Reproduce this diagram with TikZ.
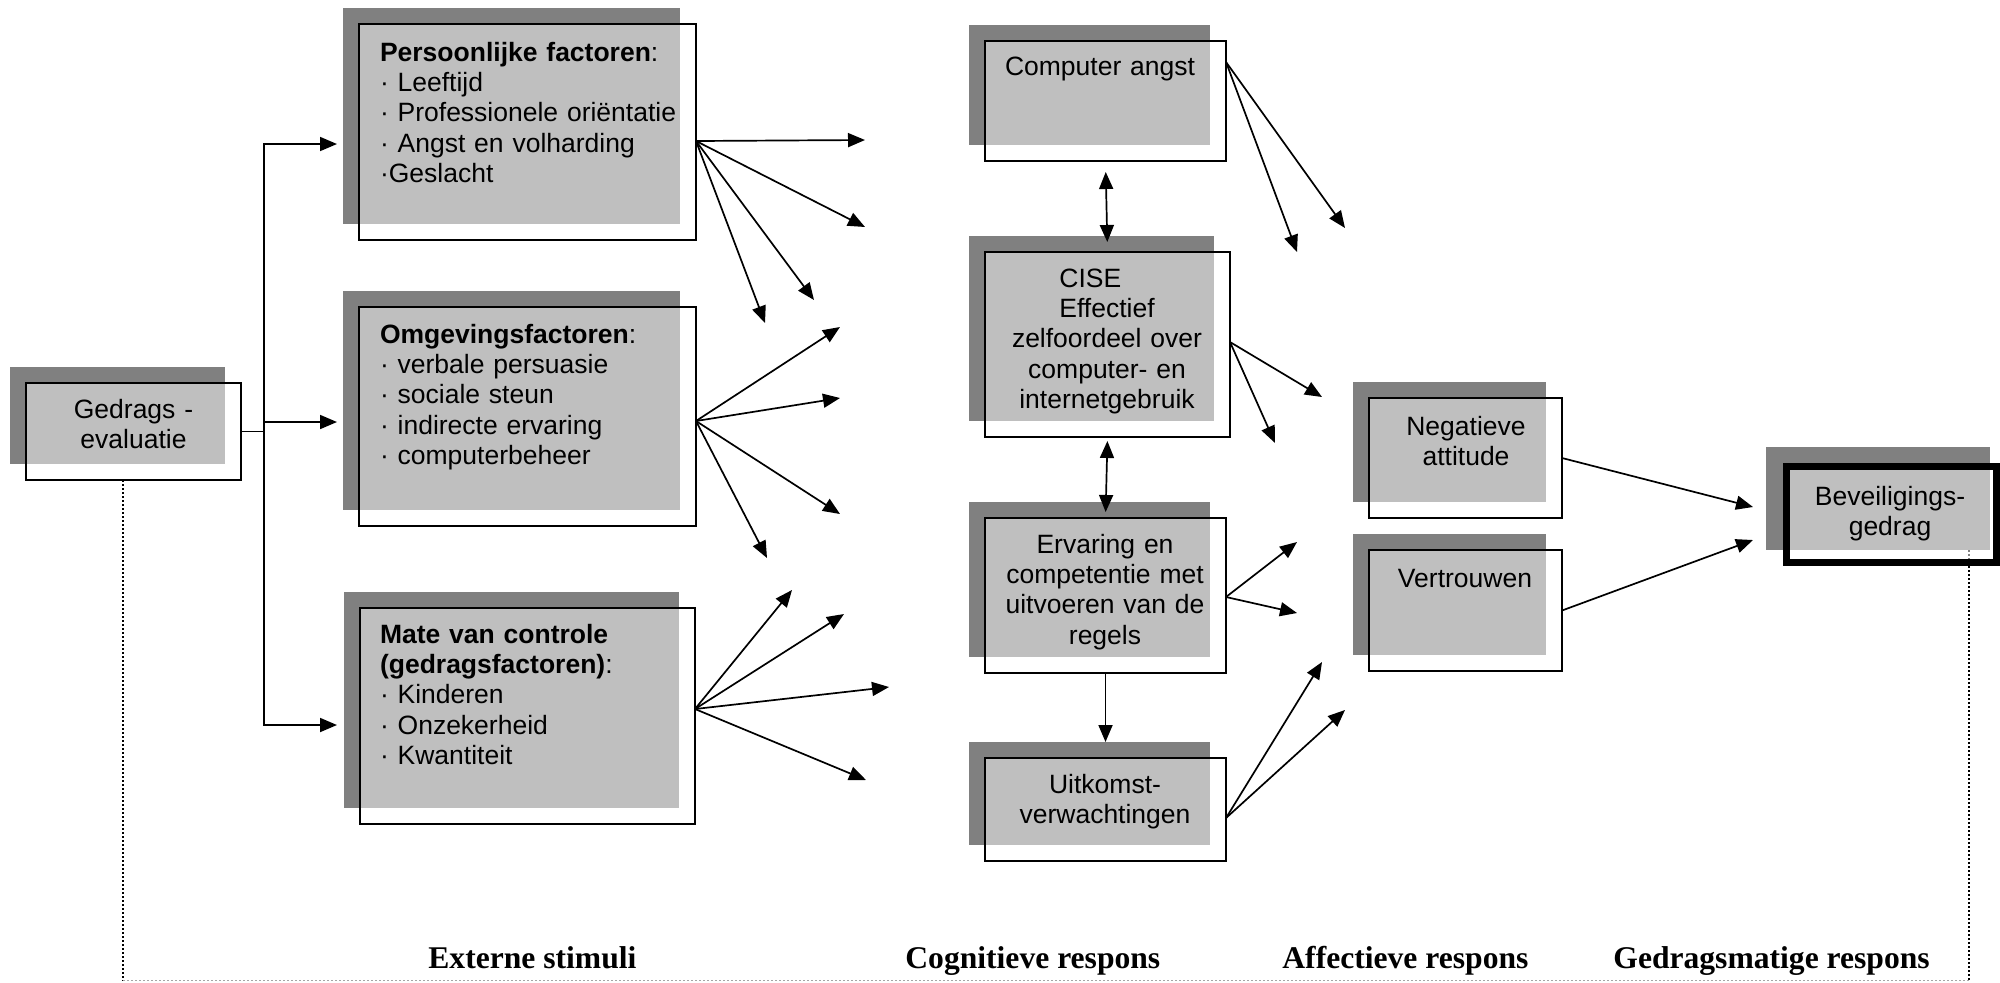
\documentclass[tikz,border=0pt]{standalone}
\usepackage{fontspec}
\setmainfont{Liberation Sans}
\newfontfamily\labelfont{Liberation Serif}
\usetikzlibrary{arrows.meta}
\definecolor{shadowgray}{HTML}{808080}
\begin{document}
\begin{tikzpicture}[x=0.5pt,y=-0.5pt,
  box/.style={rectangle, draw=black, line width=0.8pt, fill=white, fill opacity=0.5,
    draw opacity=1, inner sep=0pt, outer sep=0pt, anchor=north west,
    preaction={draw=none, fill=shadowgray, fill opacity=1,
      transform canvas={shift={(-8pt,8pt)}}}},
  sz/.style 2 args={minimum width=#1*0.5pt, minimum height=#2*0.5pt},
  thickbox/.style={rectangle, draw=black, line width=3.5pt, fill=white, fill opacity=0.5,
    draw opacity=1, inner sep=0pt, outer sep=0pt, anchor=north west},
  txt/.style={inner sep=0pt, outer sep=0pt, text width=#1,
    font=\fontsize{13.25pt}{15.2pt}\selectfont},
  ltxt/.style={txt=150pt, align=left, anchor=base west},
  ctxt/.style={txt=118pt, align=center, anchor=base},
  lab/.style={inner sep=0pt, anchor=base west,
    font=\labelfont\bfseries\fontsize{15.8pt}{18pt}\selectfont},
  conn/.style={line width=0.85pt},
  arr/.style={conn, -{Triangle[length=8.5pt,width=7pt]}},
  dbl/.style={conn, {Triangle[length=8.5pt,width=7pt]}-{Triangle[length=8.5pt,width=7pt]}},
  dotline/.style={line width=0.6pt, dash pattern=on 1pt off 1pt}
]
\useasboundingbox (0,0) rectangle (2000,982);

% ---- boxes (shadow drawn as preaction) ----
\node[box, sz={215}{97}]  (gedr) at (26,383) {};
\node[box, sz={337}{216}] (pers) at (359,24) {};
\node[box, sz={337}{219}] (omg)  at (359,307) {};
\node[box, sz={335}{216}] (mate) at (360,608) {};
\node[box, sz={241}{120}] (ca)   at (985,41) {};
\node[box, sz={245}{185}] (cise) at (985,252) {};
\node[box, sz={241}{155}] (erv)  at (985,518) {};
\node[box, sz={241}{103}] (uit)  at (985,758) {};
\node[box, sz={193}{120}] (neg)  at (1369,398) {};
\node[box, sz={193}{121}] (vert) at (1369,550) {};

% framework lines along the bottom
\coordinate (base-l) at (123,980.5);
\coordinate (base-r) at (1969,980.5);
\draw[dotline] ([xshift=-5.25pt]gedr.south) -- (base-l);
\draw[dotline, black!35] (base-l) -- (base-r);
\draw[dotline] (1969,550) -- (base-r);

% outcome box with heavy border
\fill[shadowgray] (1766,447) rectangle (1990,550);
\node[thickbox, sz={210}{96}] (bev) at (1786,466) {};

% ---- stimuli branching ----
\coordinate (split)   at (264,431.5);
\coordinate (pers-in) at (337,144);
\coordinate (omg-in)  at (337,422);
\coordinate (mate-in) at (337,725);
\draw[conn] (gedr.east) -- (split);
\draw[arr] (split) |- (pers-in);
\draw[arr] (split) |- (omg-in);
\draw[arr] (split) |- (mate-in);

% fans towards the cognitive responses
\coordinate (p1) at (865,140);  \coordinate (p2) at (865,227);
\coordinate (p3) at (814,300);  \coordinate (p4) at (765,323);
\foreach \t in {p1,p2,p3,p4} \draw[arr] ([yshift=-4.5pt]pers.east) -- (\t);

\coordinate (o1) at (840,327);  \coordinate (o2) at (840,398);
\coordinate (o3) at (840,514);  \coordinate (o4) at (767,558);
\foreach \t in {o1,o2,o3,o4} \draw[arr] ([yshift=-2.25pt]omg.east) -- (\t);

\coordinate (m1) at (792,590);  \coordinate (m2) at (844,614);
\coordinate (m3) at (889,687);  \coordinate (m4) at (866,780);
\foreach \t in {m1,m2,m3,m4} \draw[arr] ([yshift=3.5pt]mate.east) -- (\t);

% ---- cognitive column ----
\draw[dbl, shorten <=5.5pt, shorten >=5pt] (ca.south) -- (cise.north);
\draw[dbl, shorten <=2pt, shorten >=3pt] (cise.south) -- (erv.north);
\draw[arr, shorten >=8pt] (erv.south) -- (uit.north);

\coordinate (c1) at (1297,252); \coordinate (c2) at (1345,228);
\foreach \t in {c1,c2} \draw[arr] ([yshift=19.5pt]ca.east) -- (\t);
\coordinate (s1) at (1322,397); \coordinate (s2) at (1275,443);
\foreach \t in {s1,s2} \draw[arr] ([yshift=1.25pt]cise.east) -- (\t);
\coordinate (e1) at (1297,542); \coordinate (e2) at (1297,613);
\foreach \t in {e1,e2} \draw[arr] ([yshift=-0.75pt]erv.east) -- (\t);
\coordinate (u1) at (1322,662); \coordinate (u2) at (1345,710);
\foreach \t in {u1,u2} \draw[arr] ([yshift=-4.25pt]uit.east) -- (\t);

% ---- affective to behaviour ----
\coordinate (b1) at (1753,507); \coordinate (b2) at (1753,540);
\draw[arr] (neg.east) -- (b1);
\draw[arr] (vert.east) -- (b2);

% ---- texts ----
\node[ctxt] (t-gedr) at (133.5,418) {Gedrags -\\evaluatie};
\node[ltxt] (t-pers) at (380,61)
  {\textbf{Persoonlijke factoren}:\\· Leeftijd\\· Professionele oriëntatie\\· Angst en volharding\\·Geslacht};
\node[ltxt] (t-omg) at (380,343)
  {\textbf{Omgevingsfactoren}:\\· verbale persuasie\\· sociale steun\\· indirecte ervaring\\· computerbeheer};
\node[ltxt] (t-mate) at (380,643)
  {\textbf{Mate van controle}\\\textbf{(gedragsfactoren)}:\\· Kinderen\\· Onzekerheid\\· Kwantiteit};
\node[ctxt] (t-ca) at (1100,75) {Computer angst};
\node[ctxt] (t-cise) at (1107,287)
  {\rlap{CISE}\phantom{Effectief}\\Effectief\\zelfoordeel over\\computer- en\\internetgebruik};
\node[ctxt] (t-erv) at (1105,553) {Ervaring en\\competentie met\\uitvoeren van de\\regels};
\node[ctxt] (t-uit) at (1105,793) {Uitkomst-\\verwachtingen};
\node[ctxt] (t-neg) at (1466,435) {Negatieve\\attitude};
\node[ctxt] (t-vert) at (1465,587) {Vertrouwen};
\node[ctxt] (t-bev) at (1890,505) {Beveiligings-\\gedrag};

% ---- column captions ----
\node[lab] (l-ext) at (428,968) {Externe stimuli};
\node[lab] (l-cog) at (905,968) {Cognitieve respons};
\node[lab] (l-aff) at (1282,968) {Affectieve respons};
\node[lab] (l-ged) at (1613,968) {Gedragsmatige respons};
\end{tikzpicture}
\end{document}
